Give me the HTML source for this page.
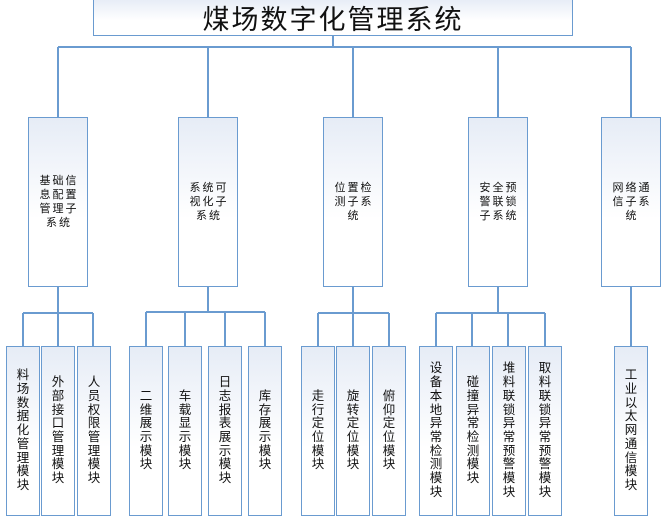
<!DOCTYPE html>
<html><head><meta charset="utf-8"><style>
body{margin:0;width:663px;height:516px;background:#fff;position:relative;overflow:hidden;font-family:"Liberation Sans","Noto Sans CJK SC",sans-serif;color:#111}
.b{position:absolute;box-sizing:border-box;border:1.5px solid #6a9bd0;background:linear-gradient(#e6ecf6,#fff 60%);display:flex;align-items:center;justify-content:center;text-align:center}
.l2{top:117px;height:170px;width:60px;font-size:11px;line-height:14px}
.l2 span{display:block;width:39px;letter-spacing:2px;word-break:break-all;margin-left:2px}
.l3{top:346px;height:170px;width:34px;font-size:12.5px;line-height:13.7px}
.l3 span{display:block;width:13px;word-break:break-all}
</style></head><body>
<svg width="663" height="516" style="position:absolute;left:0;top:0">
<g stroke="#6a9bd0" stroke-width="2" fill="none">
<path d="M333 36V47M58 47H631M58 47V117M208 47V117M353 47V117M498 47V117M631 47V117"/>
<path d="M58 286V313M23 313H93M23 313V346M58 313V346M93 313V346"/>
<path d="M208 286V312M146 312H265M146 312V346M185 312V346M225 312V346M265 312V346"/>
<path d="M353 286V313M318 313H389M318 313V346M353 313V346M389 313V346"/>
<path d="M498 286V313M436 313H545M436 313V346M472 313V346M508 313V346M545 313V346"/>
<path d="M631 286V346"/>
</g></svg>
<div class="b" style="left:93px;top:-2px;width:480px;height:38px;font-size:27px;letter-spacing:2px">煤场数字化管理系统</div>
<div class="b l2" style="left:28px"><span>基础信息配置管理子系统</span></div>
<div class="b l2" style="left:178px"><span>系统可视化子系统</span></div>
<div class="b l2" style="left:323px"><span>位置检测子系统</span></div>
<div class="b l2" style="left:468px"><span>安全预警联锁子系统</span></div>
<div class="b l2" style="left:601px"><span>网络通信子系统</span></div>
<div class="b l3" style="left:6px"><span>料场数据化管理模块</span></div>
<div class="b l3" style="left:41px"><span>外部接口管理模块</span></div>
<div class="b l3" style="left:77px"><span>人员权限管理模块</span></div>
<div class="b l3" style="left:129px"><span>二维展示模块</span></div>
<div class="b l3" style="left:168px"><span>车载显示模块</span></div>
<div class="b l3" style="left:208px"><span>日志报表展示模块</span></div>
<div class="b l3" style="left:248px"><span>库存展示模块</span></div>
<div class="b l3" style="left:301px"><span>走行定位模块</span></div>
<div class="b l3" style="left:336px"><span>旋转定位模块</span></div>
<div class="b l3" style="left:372px"><span>俯仰定位模块</span></div>
<div class="b l3" style="left:419px"><span>设备本地异常检测模块</span></div>
<div class="b l3" style="left:456px"><span>碰撞异常检测模块</span></div>
<div class="b l3" style="left:492px"><span>堆料联锁异常预警模块</span></div>
<div class="b l3" style="left:528px"><span>取料联锁异常预警模块</span></div>
<div class="b l3" style="left:614px"><span>工业以太网通信模块</span></div>
</body></html>
